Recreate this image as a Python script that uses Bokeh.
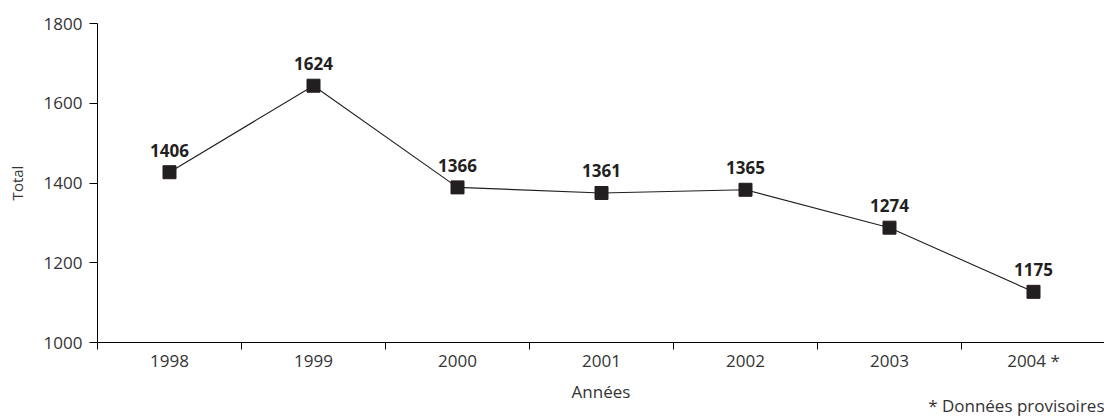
from bokeh.plotting import figure
from bokeh.models import Range1d, FixedTicker, Title, ColumnDataSource
from bokeh.core.properties import value
from bokeh.embed import file_html
from bokeh.resources import INLINE

# Data
years = [1998, 1999, 2000, 2001, 2002, 2003, 2004]
plotted_totals = [1427, 1644, 1389, 1375, 1383, 1288, 1127]
value_labels = ["1406", "1624", "1366", "1361", "1365", "1274", "1175"]
y_ticks = [1000, 1200, 1400, 1600, 1800]
year_boundaries = [1997.5, 1998.5, 1999.5, 2000.5, 2001.5, 2002.5, 2003.5]
x_title = "Années"
y_title = "Total"
footnote = "* Données provisoires"

FONT = "Open Sans"
TXT = "#333333"
INK = "#231f20"

W, H = 1104, 416
left, right, top, bottom = 97, 0, 23, 74
frame_w = W - left - right
cat_w = 144.0

src = ColumnDataSource(dict(x=years, y=plotted_totals, lab=value_labels))

p = figure(width=W, height=H, output_backend="svg", toolbar_location=None,
           x_range=Range1d(1997.5, 1997.5 + frame_w / cat_w),
           y_range=Range1d(1000, 1800),
           min_border_left=left, min_border_right=right,
           min_border_top=top, min_border_bottom=bottom)
p.outline_line_color = None
p.xgrid.grid_line_color = None
p.ygrid.grid_line_color = None
p.background_fill_color = "white"
p.border_fill_color = "white"

p.line("x", "y", source=src, line_color=INK, line_width=1.1)
p.scatter("x", "y", source=src, marker="square", size=13, fill_color=INK, line_color=INK)
p.text("x", "y", text="lab", source=src, text_font=value(FONT), text_font_style="bold",
       text_font_size="17px", text_color=INK, text_align="center",
       text_baseline="middle", y_offset=-22)

xa = p.xaxis[0]
xa.ticker = FixedTicker(ticks=years, minor_ticks=year_boundaries)
xa.major_label_overrides = {2004: "2004 *"}
xa.major_tick_out = 0
xa.major_tick_in = 0
xa.major_tick_line_color = None
xa.minor_tick_out = 7
xa.minor_tick_in = 0
xa.minor_tick_line_color = "black"
xa.axis_line_color = "black"
xa.major_label_standoff = -1
xa.major_label_text_font = FONT
xa.major_label_text_font_size = "17px"
xa.major_label_text_color = TXT
xa.axis_label = x_title
xa.axis_label_text_font = FONT
xa.axis_label_text_font_size = "17px"
xa.axis_label_text_font_style = "normal"
xa.axis_label_text_color = TXT
xa.axis_label_standoff = 5

ya = p.yaxis[0]
ya.ticker = FixedTicker(ticks=y_ticks)
ya.major_tick_out = 8
ya.major_tick_in = 0
ya.minor_tick_out = 0
ya.minor_tick_in = 0
ya.major_tick_line_color = "black"
ya.axis_line_color = "black"
ya.major_label_standoff = 7
ya.major_label_text_font = FONT
ya.major_label_text_font_size = "17px"
ya.major_label_text_color = TXT
ya.axis_label = y_title
ya.axis_label_text_font = FONT
ya.axis_label_text_font_size = "15px"
ya.axis_label_text_font_style = "normal"
ya.axis_label_text_color = TXT
ya.axis_label_standoff = 14

note = Title(text=footnote, align="right", vertical_align="top", standoff=-24,
             text_font=FONT, text_font_size="17px", text_font_style="normal",
             text_color=TXT)
p.add_layout(note, "below")

open("out.html", "w").write(file_html(p, INLINE))
